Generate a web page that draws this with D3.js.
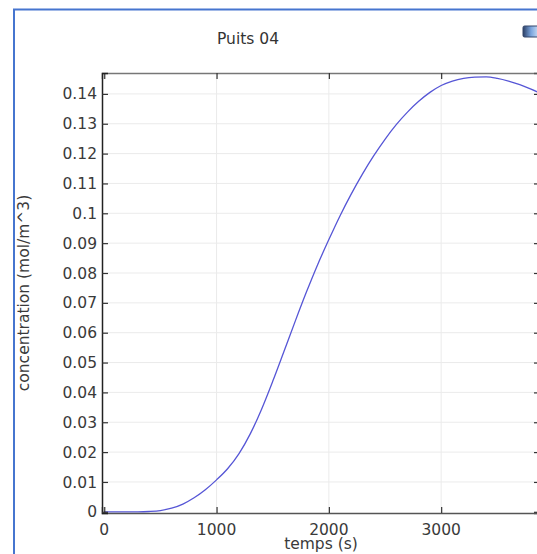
<!DOCTYPE html>
<html lang="fr">
<head>
<meta charset="UTF-8">
<title>Puits 04</title>
<script src="https://d3js.org/d3.v7.min.js"></script>
<style>
  html, body { margin: 0; padding: 0; background: #fff; }
  svg { display: block; font-family: "DejaVu Sans", sans-serif; }
</style>
</head>
<body>
<div id="chart"></div>
<script>
// data: temps (s) -> concentration (mol/m^3)
const temps = [0, 100, 200, 300, 400, 500, 600, 700, 800, 900, 1000, 1100, 1200, 1300, 1400,
  1500, 1600, 1700, 1800, 1900, 2000, 2100, 2200, 2300, 2400, 2500, 2600, 2700, 2800, 2900,
  3000, 3100, 3200, 3300, 3400, 3500, 3600, 3700, 3800, 3900];
const concentration = [0, 0, 0, 0, 0.0001, 0.0004, 0.0012, 0.0026, 0.0047, 0.0074, 0.0107, 0.0145,
  0.0195, 0.0261, 0.0343, 0.0437, 0.0537, 0.0638, 0.0736, 0.0828, 0.0912, 0.0992, 0.1065, 0.1132,
  0.1193, 0.1248, 0.1297, 0.1339, 0.1375, 0.1405, 0.1428, 0.1443, 0.1452, 0.1456, 0.1457, 0.1452,
  0.1443, 0.1431, 0.1416, 0.1399];
const xTicks = [0, 1000, 2000, 3000];
const yTicks = [0, 0.01, 0.02, 0.03, 0.04, 0.05, 0.06, 0.07, 0.08, 0.09, 0.1, 0.11, 0.12, 0.13, 0.14];
const title = "Puits 04";
const xLabel = "temps (s)";
const yLabel = "concentration (mol/m^3)";

const width = 537;
const height = 554;
const marginTop = 73;
const marginBottom = 41;   // axis at y = 513
const marginLeft = 102;
const plotRight = 540;     // right edge of the plot lies just past the window

const data = temps.map((t, i) => ({ t, c: concentration[i] }));

const x = d3.scaleLinear()
  .domain([-20, 3880])
  .range([marginLeft, plotRight]);

const y = d3.scaleLinear()
  .domain([-0.0004, 0.147])
  .range([height - marginBottom, marginTop]);

const svg = d3.select("#chart")
  .append("svg")
  .attr("width", width)
  .attr("height", height);

// outer blue frame
svg.append("rect")
  .attr("x", 14).attr("y", 9.5)
  .attr("width", 600).attr("height", 600)
  .attr("fill", "#fff")
  .attr("stroke", "#4675cf")
  .attr("stroke-width", 2);

// grid
svg.append("g")
  .selectAll("line")
  .data(yTicks.slice(1))
  .join("line")
  .attr("x1", marginLeft).attr("x2", plotRight)
  .attr("y1", d => y(d)).attr("y2", d => y(d))
  .attr("stroke", "#ebebeb");

svg.append("g")
  .selectAll("line")
  .data(xTicks.slice(1))
  .join("line")
  .attr("y1", marginTop).attr("y2", height - marginBottom)
  .attr("x1", d => x(d)).attr("x2", d => x(d))
  .attr("stroke", "#ebebeb");

// curve
svg.append("path")
  .datum(data)
  .attr("fill", "none")
  .attr("stroke", "#5656d6")
  .attr("stroke-width", 1.3)
  .attr("d", d3.line()
    .x(d => x(d.t))
    .y(d => y(d.c))
    .curve(d3.curveMonotoneX));

// axes (ticks point inward)
const xAxis = d3.axisBottom(x).tickValues(xTicks).tickSize(-6).tickFormat("");
const xAxisTop = d3.axisTop(x).tickValues(xTicks).tickSize(-6).tickFormat("");
const yAxis = d3.axisLeft(y).tickValues(yTicks).tickSize(-6).tickFormat("");
const yAxisRight = d3.axisRight(y).tickValues(yTicks).tickSize(-6).tickFormat("");

function styleAxis(g, col) {
  g.select(".domain").attr("stroke", col).attr("stroke-width", 1.5);
  g.selectAll(".tick line").attr("stroke", "#333").attr("stroke-width", 1.2);
}

svg.append("g")
  .attr("transform", `translate(0,${height - marginBottom})`)
  .call(xAxis).call(g => styleAxis(g, "#555"));
svg.append("g")
  .attr("transform", `translate(0,${marginTop})`)
  .call(xAxisTop).call(g => styleAxis(g, "#777"));
svg.append("g")
  .attr("transform", `translate(${marginLeft},0)`)
  .call(yAxis).call(g => styleAxis(g, "#222"));
svg.append("g")
  .attr("transform", `translate(${plotRight},0)`)
  .call(yAxisRight).call(g => styleAxis(g, "#555"));

// tick labels
const fmtY = d => d === 0 ? "0" : d3.format(".2~f")(d);

svg.append("g")
  .attr("font-size", 15.5)
  .attr("fill", "#3a3a3a")
  .attr("text-anchor", "end")
  .selectAll("text")
  .data(yTicks)
  .join("text")
  .attr("x", marginLeft - 5)
  .attr("y", d => y(d))
  .attr("dy", "0.36em")
  .text(fmtY);

svg.append("g")
  .attr("font-size", 15.5)
  .attr("fill", "#3a3a3a")
  .attr("text-anchor", "middle")
  .selectAll("text")
  .data(xTicks)
  .join("text")
  .attr("x", d => x(d))
  .attr("y", 535)
  .text(d => d);

// titles
svg.append("text")
  .attr("x", 248).attr("y", 44)
  .attr("text-anchor", "middle")
  .attr("font-size", 15.5)
  .attr("fill", "#333")
  .text(title);

svg.append("text")
  .attr("x", (marginLeft + plotRight) / 2).attr("y", 549)
  .attr("text-anchor", "middle")
  .attr("font-size", 15.5)
  .attr("fill", "#3a3a3a")
  .text(xLabel);

svg.append("text")
  .attr("transform", `translate(29,${(marginTop + height - marginBottom) / 2}) rotate(-90)`)
  .attr("text-anchor", "middle")
  .attr("font-size", 15.5)
  .attr("fill", "#3a3a3a")
  .text(yLabel);

// small toolbar icon in the top right corner
const grad = svg.append("defs").append("linearGradient")
  .attr("id", "icon").attr("x1", 0).attr("x2", 1);
grad.append("stop").attr("offset", 0).attr("stop-color", "#2b3f66");
grad.append("stop").attr("offset", 0.5).attr("stop-color", "#7aa4dd");
grad.append("stop").attr("offset", 1).attr("stop-color", "#cfe0f5");
svg.append("rect")
  .attr("x", 523).attr("y", 26).attr("width", 16).attr("height", 11)
  .attr("rx", 1.5)
  .attr("fill", "url(#icon)")
  .attr("stroke", "#34476b");
</script>
</body>
</html>
